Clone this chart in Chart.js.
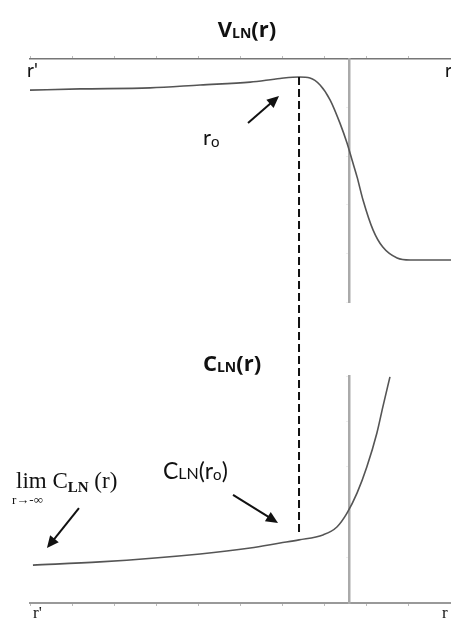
<!DOCTYPE html>
<html>
<head>
<meta charset="utf-8">
<script src="https://cdn.jsdelivr.net/npm/chart.js@4.4.0/dist/chart.umd.min.js"></script>
<style>
  html, body { margin: 0; padding: 0; background: #fff; }
  #wrap { position: relative; width: 451px; height: 624px; overflow: hidden; }
  .panel { position: absolute; left: 0; width: 451px; }
  #top { top: 0; height: 320px; }
  #bottom { top: 320px; height: 304px; }
</style>
</head>
<body>
<div id="wrap">
  <div class="panel" id="top"><canvas id="vChart"></canvas></div>
  <div class="panel" id="bottom"><canvas id="cChart"></canvas></div>
</div>
<script>
// r runs from r' (0) on the left to r (10) on the right
const rV = [0, 1.19, 2.85, 4.04, 5.23, 5.94, 6.39, 6.65, 6.89, 7.13, 7.36, 7.53, 7.65, 7.77, 7.91, 8.15, 8.38, 8.72, 9.03, 10];
const vValues = [8.72, 8.77, 8.81, 8.93, 9.05, 9.20, 9.26, 9.22, 8.93, 8.31, 7.37, 6.54, 5.84, 5.14, 4.20, 2.96, 2.26, 1.81, 1.73, 1.73];

const rC = [0.07, 1.66, 4.04, 5.23, 5.94, 6.39, 6.96, 7.29, 7.53, 7.77, 8.00, 8.24, 8.38, 8.55];
const cValues = [1.67, 1.81, 2.16, 2.42, 2.64, 2.78, 3.00, 3.35, 3.96, 4.85, 5.99, 7.49, 8.63, 9.96];

const rZero = 6.39;   // r0, where V_LN peaks
const rCross = 7.58;  // position of the vertical axis
const xTicks = { min: 0, max: 10, step: 1 };

const curveColor = '#555';

function toPoints(xs, ys) {
  return xs.map((x, i) => ({ x: x, y: ys[i] }));
}

// text made of runs: [text, font, dy]
function drawRuns(ctx, runs, x, y, align) {
  let total = 0;
  runs.forEach(r => { ctx.font = r[1]; total += ctx.measureText(r[0]).width; });
  let cx = align === 'center' ? x - total / 2 : x;
  ctx.textAlign = 'left';
  ctx.textBaseline = 'alphabetic';
  runs.forEach(r => {
    ctx.font = r[1];
    ctx.fillText(r[0], cx, y + (r[2] || 0));
    cx += ctx.measureText(r[0]).width;
  });
}

function arrow(ctx, x1, y1, x2, y2) {
  const a = Math.atan2(y2 - y1, x2 - x1);
  const h = 12, w = 5.5;
  ctx.save();
  ctx.strokeStyle = '#111';
  ctx.fillStyle = '#111';
  ctx.lineWidth = 2;
  ctx.beginPath();
  ctx.moveTo(x1, y1);
  ctx.lineTo(x2 - h * 0.7 * Math.cos(a), y2 - h * 0.7 * Math.sin(a));
  ctx.stroke();
  ctx.beginPath();
  ctx.moveTo(x2, y2);
  ctx.lineTo(x2 - h * Math.cos(a) + w * Math.sin(a), y2 - h * Math.sin(a) - w * Math.cos(a));
  ctx.lineTo(x2 - h * Math.cos(a) - w * Math.sin(a), y2 - h * Math.sin(a) + w * Math.cos(a));
  ctx.closePath();
  ctx.fill();
  ctx.restore();
}

function dashed(ctx, x, y1, y2) {
  ctx.save();
  ctx.strokeStyle = '#111';
  ctx.lineWidth = 2;
  ctx.setLineDash([8, 4]);
  ctx.beginPath();
  ctx.moveTo(x, y1);
  ctx.lineTo(x, y2);
  ctx.stroke();
  ctx.restore();
}

const titleFont = 'bold 22px "Open Sans"';
const titleSub = 'bold 14px "Open Sans"';

const vDecor = {
  id: 'vDecor',
  afterDraw(chart) {
    const ctx = chart.ctx, xs = chart.scales.x, ys = chart.scales.y;
    const i0 = rV.indexOf(rZero);
    const px = xs.getPixelForValue(rZero), py = ys.getPixelForValue(vValues[i0]);
    ctx.save();
    ctx.fillStyle = '#111';
    drawRuns(ctx, [['V', titleFont], ['LN', titleSub, 1], ['(r)', titleFont]], 247, 37, 'center');
    drawRuns(ctx, [["r'", '19px Lato']], 27, 77);
    drawRuns(ctx, [['r', '19px Lato']], 445, 77);
    dashed(ctx, px, py, chart.height);
    arrow(ctx, px - 51, py + 46, px - 20, py + 19);
    drawRuns(ctx, [['r', '22px Lato'], ['o', '15px Lato', 2]], px - 96, py + 68);
    ctx.restore();
  }
};

const cDecor = {
  id: 'cDecor',
  afterDraw(chart) {
    const ctx = chart.ctx, xs = chart.scales.x, ys = chart.scales.y;
    const i0 = rC.indexOf(rZero);
    const px = xs.getPixelForValue(rZero), py = ys.getPixelForValue(cValues[i0]);
    const lx = xs.getPixelForValue(rC[0]), ly = ys.getPixelForValue(cValues[0]);
    ctx.save();
    ctx.fillStyle = '#111';
    drawRuns(ctx, [['C', titleFont], ['LN', titleSub, 1], ['(r)', titleFont]], 232, 51, 'center');
    dashed(ctx, px, 0, py - 7);
    // C_LN(r0)
    arrow(ctx, px - 66, py - 45, px - 21, py - 17);
    drawRuns(ctx, [['C', '23px Lato'], ['LN', '16px Lato'], ['(r', '23px Lato'], ['o', '15px Lato', 1], [')', '23px Lato']], 163, 159);
    // limit as r goes to minus infinity
    arrow(ctx, lx + 46, ly - 57, lx + 14, ly - 17);
    drawRuns(ctx, [['lim ', '23px "Liberation Serif"'], ['C', '23px "Liberation Serif"'], ['LN', 'bold 15px "Liberation Serif"', 4], [' (r)', '23px "Liberation Serif"']], 16, 168);
    drawRuns(ctx, [['r\u2192-\u221e', '13px "Liberation Serif"']], 12, 184);
    drawRuns(ctx, [["r'", '17px "Liberation Serif"']], 33, 298);
    drawRuns(ctx, [['r', '17px "Liberation Serif"']], 442, 298);
    ctx.restore();
  }
};

function panelScales(xPos, xBorder, xBorderWidth) {
  return {
    x: {
      type: 'linear', position: xPos, min: xTicks.min, max: xTicks.max,
      ticks: { display: false, stepSize: xTicks.step },
      grid: { drawOnChartArea: false, tickLength: 3, color: '#bbb' },
      border: { color: xBorder, width: xBorderWidth },
      afterFit: s => { s.height = 0; }
    },
    y: {
      type: 'linear', position: { x: rCross }, min: 0, max: 10,
      ticks: { display: false, stepSize: 2 },
      grid: { drawOnChartArea: false, tickLength: 2, color: '#eee' },
      border: { color: '#aaa', width: 2.5 },
      afterFit: s => { s.width = 0; }
    }
  };
}

function lineDataset(xs, ys) {
  return {
    data: toPoints(xs, ys),
    borderColor: curveColor,
    borderWidth: 1.6,
    pointRadius: 0,
    cubicInterpolationMode: 'monotone',
    fill: false,
    clip: false
  };
}

const common = {
  responsive: true,
  maintainAspectRatio: false,
  animation: false,
  events: [],
  plugins: { legend: { display: false }, tooltip: { enabled: false } }
};

new Chart(document.getElementById('vChart'), {
  type: 'line',
  data: { datasets: [lineDataset(rV, vValues)] },
  options: Object.assign({}, common, {
    layout: { padding: { top: 59, left: 30, right: 0, bottom: 18 } },
    scales: panelScales('top', '#777', 1.5)
  }),
  plugins: [vDecor]
});

new Chart(document.getElementById('cChart'), {
  type: 'line',
  data: { datasets: [lineDataset(rC, cValues)] },
  options: Object.assign({}, common, {
    layout: { padding: { top: 56, left: 30, right: 0, bottom: 21 } },
    scales: panelScales('bottom', '#999', 2)
  }),
  plugins: [cDecor]
});
</script>
</body>
</html>
